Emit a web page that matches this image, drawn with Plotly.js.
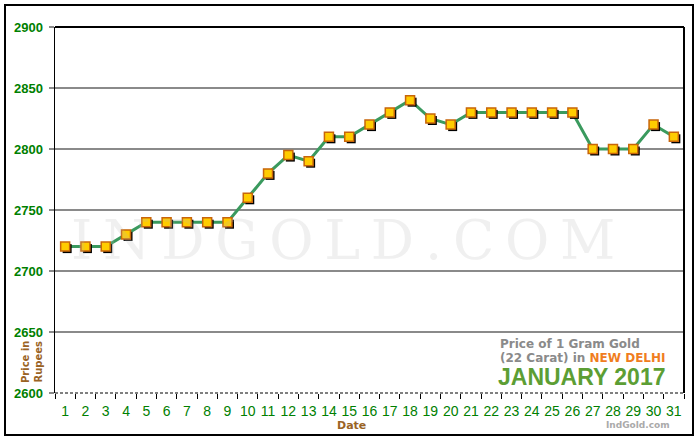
<!DOCTYPE html>
<html>
<head>
<meta charset="utf-8">
<script src="https://cdn.plot.ly/plotly-3.0.1.min.js"></script>
<style>html,body{margin:0;padding:0;background:#fff;}#chart{width:700px;height:440px;}</style>
</head>
<body>
<div id="chart"></div>
<script>
// ---- data ----
const dates = ["1","2","3","4","5","6","7","8","9","10","11","12","13","14","15","16","17","18","19","20","21","22","23","24","25","26","27","28","29","30","31"];
const prices = [2720,2720,2720,2730,2740,2740,2740,2740,2740,2760,2780,2795,2790,2810,2810,2820,2830,2840,2825,2820,2830,2830,2830,2830,2830,2830,2800,2800,2800,2820,2810];
const yTicks = [2600,2650,2700,2750,2800,2850,2900];
const dottedGrid = [2650,2850];
const titleLine1 = "Price of 1 Gram Gold";
const titleLine2a = "(22 Carat) in ";
const titleCity = "NEW DELHI";
const titleMonth = "JANUARY 2017";
const xTitle = "Date";
const yTitle = "Price in<br>Rupees";
const watermark = "INDGOLD.COM";
const siteNote = "IndGold.com";

// ---- geometry ----
const L = 55, T = 27, W = 629, H = 366;
const px = x => (x - L) / W;
const py = y => (T + H - y) / H;
const yMin = 2600, yMax = 2900;
const xR = [-0.5, dates.length - 0.5];
const shadowPx = 2;
const dx = shadowPx * (xR[1] - xR[0]) / W;
const dy = shadowPx * (yMax - yMin) / H;

const green = "#008000";
const brown = "#9a6324";

const lineTrace = {
  x: dates, y: prices, type: "scatter", mode: "lines",
  line: {color: "#3a9a5e", width: 3}, hoverinfo: "skip", xaxis: "x", yaxis: "y"
};
const shadowTrace = {
  x: dates, y: prices, type: "scatter", mode: "markers",
  marker: {symbol: "square", size: 9, color: "#000", line: {width: 0}},
  hoverinfo: "skip", xaxis: "x2", yaxis: "y2"
};
const markerTrace = {
  x: dates, y: prices, type: "scatter", mode: "markers",
  marker: {symbol: "square", size: 9, color: "#ffcc00", line: {color: "#c8650a", width: 1.5}},
  xaxis: "x3", yaxis: "y3"
};

const hidden = {visible: false, fixedrange: true};
const shapes = [
  {type: "rect", xref: "paper", yref: "paper", x0: px(5), x1: px(693), y0: py(435), y1: py(5), line: {color: "#000", width: 2}, layer: "below"},
  {type: "line", xref: "paper", yref: "paper", x0: 0, x1: 1, y0: 1, y1: 1, line: {color: "#000", width: 2}},
  {type: "line", xref: "paper", yref: "paper", x0: 1, x1: 1, y0: 0, y1: 1, line: {color: "#000", width: 2}},
  {type: "line", xref: "paper", yref: "paper", x0: 0, x1: 1, y0: 0, y1: 0, line: {color: "#000", width: 1, dash: "3px,2px"}}
];
dottedGrid.forEach(v => shapes.push({type: "line", xref: "paper", yref: "y", x0: 0, x1: 1, y0: v, y1: v, line: {color: "#000", width: 1, dash: "dot"}, layer: "below"}));

const annotations = [
  {xref: "paper", yref: "paper", x: px(343), y: py(240), text: watermark.split("").join("\u2009"), showarrow: false,
   font: {family: "DejaVu Serif, Liberation Serif, serif", size: 54, color: "rgba(180,180,180,0.2)"}, xanchor: "center", yanchor: "middle"},
  {xref: "paper", yref: "paper", x: px(498), y: py(344), text: titleLine1, showarrow: false, xanchor: "left", yanchor: "middle",
   font: {family: "DejaVu Sans", size: 12, weight: "bold", color: "#8a8a8a"}},
  {xref: "paper", yref: "paper", x: px(498), y: py(358), text: titleLine2a + '<span style="color:#f07d1e">' + titleCity + '</span>', showarrow: false, xanchor: "left", yanchor: "middle",
   font: {family: "DejaVu Sans", size: 12, weight: "bold", color: "#8a8a8a"}},
  {xref: "paper", yref: "paper", x: px(496), y: py(377), text: titleMonth, showarrow: false, xanchor: "left", yanchor: "middle",
   font: {family: "Liberation Sans, Arial, sans-serif", size: 23, weight: "bold", color: "#5c9e34"}},
  {xref: "paper", yref: "paper", x: px(672), y: py(425), text: siteNote, showarrow: false, xanchor: "right", yanchor: "middle",
   font: {family: "DejaVu Sans", size: 9, weight: "bold", color: "#aaaaaa"}},
  {xref: "paper", yref: "paper", x: px(351), y: py(425), text: xTitle, showarrow: false, xanchor: "center", yanchor: "middle",
   font: {family: "DejaVu Sans", size: 11, weight: "bold", color: brown}},
  {xref: "paper", yref: "paper", x: px(32), y: py(362), text: yTitle, showarrow: false, textangle: -90, xanchor: "center", yanchor: "middle",
   font: {family: "DejaVu Sans", size: 10, weight: "bold", color: brown}}
];

const layout = {
  width: 700, height: 440,
  margin: {l: L, r: 700 - L - W, t: T, b: 440 - T - H, pad: 0},
  paper_bgcolor: "#fff", plot_bgcolor: "#fff",
  showlegend: false,
  xaxis: {
    type: "category", range: xR, fixedrange: true,
    showgrid: false, zeroline: false, showline: false,
    ticks: "outside", tickson: "boundaries", ticklen: 5, tickcolor: "#000", tickwidth: 1,
    tickangle: 0,
    tickfont: {family: "Liberation Sans, Arial, sans-serif", size: 14, color: green},
    ticklabelstandoff: 8
  },
  yaxis: {
    range: [yMin, yMax], tickmode: "array", tickvals: yTicks, ticktext: yTicks.map(String), fixedrange: true,
    showgrid: true, gridcolor: "#8a8a8a", gridwidth: 2, zeroline: false,
    showline: true, linecolor: "#000", linewidth: 1.5,
    ticks: "outside", ticklen: 5, tickcolor: "#8a8a8a", tickwidth: 2,
    tickfont: {family: "Liberation Sans, Arial, sans-serif", size: 13, weight: "bold", color: green},
    ticklabelstandoff: 3
  },
  xaxis2: Object.assign({overlaying: "x", type: "category", range: [xR[0] - dx, xR[1] - dx]}, hidden),
  yaxis2: Object.assign({overlaying: "y", range: [yMin + dy, yMax + dy]}, hidden),
  xaxis3: Object.assign({overlaying: "x", type: "category", range: xR}, hidden),
  yaxis3: Object.assign({overlaying: "y", range: [yMin, yMax]}, hidden),
  shapes: shapes,
  annotations: annotations
};

Plotly.newPlot("chart", [lineTrace, shadowTrace, markerTrace], layout, {displayModeBar: false, staticPlot: true});
</script>
</body>
</html>
